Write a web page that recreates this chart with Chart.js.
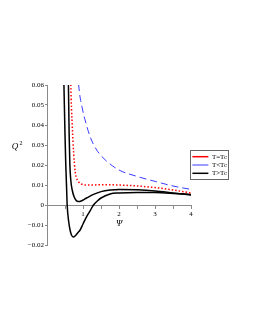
<!DOCTYPE html>
<html>
<head>
<meta charset="utf-8">
<script src="https://cdn.jsdelivr.net/npm/chart.js@4/dist/chart.umd.min.js"></script>
<style>
  body { margin: 0; background: #fff; }
  canvas { display: block; }
</style>
</head>
<body>
<canvas id="myChart" width="255" height="330"></canvas>
<script>
// T=Tc (red dotted)
var psiEq = [0.63, 0.66, 0.70, 0.74, 0.78, 0.82, 0.87, 0.95, 1.1, 1.5, 2.0, 2.5, 3.0, 3.5, 4.0];
var qEq   = [0.09, 0.06, 0.04, 0.026, 0.017, 0.0135, 0.0117, 0.0105, 0.0100, 0.0101, 0.0100, 0.0095, 0.0087, 0.0075, 0.0060];

// T<Tc (blue dashed)
var psiLow = [0.86, 0.88, 0.99, 1.08, 1.2, 1.38, 1.62, 2.0, 2.5, 3.0, 3.5, 4.0];
var qLow   = [0.066, 0.06, 0.0475, 0.041, 0.034, 0.0275, 0.0225, 0.0175, 0.0143, 0.0118, 0.0095, 0.0078];

// T>Tc (black, deep well)
var psiHigh1 = [0.44, 0.47, 0.5, 0.52, 0.545, 0.56, 0.6, 0.64, 0.68, 0.73, 0.78, 0.85, 0.92, 1.0, 1.1, 1.2, 1.29, 1.4, 1.5, 1.75, 2.0, 2.5, 3.0, 3.5, 4.0];
var qHigh1   = [0.09, 0.06, 0.035, 0.021, 0.008, 0.0, -0.008, -0.0125, -0.015, -0.016, -0.0155, -0.014, -0.0125, -0.0095, -0.0058, -0.0028, 0.0, 0.002, 0.0035, 0.0055, 0.006, 0.0063, 0.0062, 0.0058, 0.0053];

// T>Tc (black, shallow well)
var psiHigh2 = [0.57, 0.595, 0.615, 0.635, 0.66, 0.7, 0.75, 0.8, 0.87, 0.95, 1.0, 1.1, 1.29, 1.5, 1.76, 2.0, 2.5, 3.0, 3.5, 4.0];
var qHigh2   = [0.09, 0.06, 0.035, 0.02, 0.0125, 0.0075, 0.0042, 0.0025, 0.0017, 0.002, 0.0025, 0.0035, 0.0053, 0.0067, 0.0075, 0.0078, 0.0076, 0.007, 0.006, 0.005];

var xTicks = [1, 2, 3, 4];

function toPoints(xs, ys) {
    var pts = [];
    for (var i = 0; i < xs.length; i++) pts.push({x: xs[i], y: ys[i]});
    return pts;
}

var serif = "'Liberation Serif', 'DejaVu Serif', serif";
var axisGrey = "#8a8a8a";

// legend frame + horizontal Q^2 label
var extras = {
    id: 'extras',
    afterDraw: function(chart) {
        var ctx = chart.ctx;
        var boxes = chart.legend.legendHitBoxes;
        if (boxes && boxes.length) {
            var l = 1e9, t = 1e9, r = -1e9, b = -1e9;
            boxes.forEach(function(h) {
                l = Math.min(l, h.left); t = Math.min(t, h.top);
                r = Math.max(r, h.left + h.width); b = Math.max(b, h.top + h.height);
            });
            ctx.save();
            ctx.strokeStyle = "#666";
            ctx.lineWidth = 1;
            ctx.strokeRect(Math.round(l - 2) + 0.5, Math.round(t - 3) + 0.5, Math.round(r - l + 3), Math.round(b - t + 5));
            ctx.restore();
        }
        var ya = chart.scales.y;
        ctx.save();
        ctx.fillStyle = "#000";
        ctx.textAlign = "center";
        ctx.textBaseline = "middle";
        ctx.font = "italic 9px " + serif;
        ctx.fillText("Q", 15, ya.getPixelForValue(0.029));
        ctx.font = "6px " + serif;
        ctx.fillText("2", 21, ya.getPixelForValue(0.031));
        ctx.restore();
    }
};

var ctx = document.getElementById("myChart").getContext("2d");
var myChart = new Chart(ctx, {
    type: 'line',
    data: {
        datasets: [
            {label: 'T=Tc', data: toPoints(psiEq, qEq), borderColor: '#ff0000', backgroundColor: '#ff0000',
             borderWidth: 1.5, borderDash: [1.5, 2]},
            {label: 'T<Tc', data: toPoints(psiLow, qLow), borderColor: '#3a3aff', backgroundColor: '#3a3aff',
             borderWidth: 1, borderDash: [7, 4]},
            {label: 'T>Tc', data: toPoints(psiHigh1, qHigh1), borderColor: '#000', backgroundColor: '#000',
             borderWidth: 1.5},
            {label: 'T>Tc ', data: toPoints(psiHigh2, qHigh2), borderColor: '#000', backgroundColor: '#000',
             borderWidth: 1.5}
        ]
    },
    options: {
        responsive: false,
        animation: false,
        elements: {
            point: {radius: 0},
            line: {cubicInterpolationMode: 'monotone', fill: false}
        },
        layout: {padding: {top: 85, bottom: 85, left: 0, right: 18}},
        plugins: {
            tooltip: {enabled: false},
            legend: {
                position: 'right',
                fullSize: false,
                labels: {
                    usePointStyle: true,
                    pointStyle: 'line',
                    pointStyleWidth: 16,
                    padding: 1.3,
                    color: '#000',
                    font: {family: serif, size: 7},
                    filter: function(item) { return item.datasetIndex !== 3; }
                }
            }
        },
        scales: {
            x: {
                type: 'linear',
                position: {y: 0},
                min: 0, max: 4,
                afterFit: function(s) { s.height = 24; },
                ticks: {
                    stepSize: 0.5,
                    autoSkip: false,
                    maxRotation: 0,
                    padding: 2,
                    color: '#000',
                    font: {family: serif, size: 7},
                    callback: function(v) { return xTicks.indexOf(v) >= 0 ? String(v) : ''; }
                },
                grid: {drawOnChartArea: false, tickLength: 3, color: axisGrey},
                border: {color: axisGrey},
                title: {display: true, text: 'Ψ', color: '#000', padding: 0,
                        font: {family: serif, size: 9, style: 'italic'}}
            },
            y: {
                min: -0.02, max: 0.06,
                afterFit: function(s) { s.width = 47; },
                ticks: {
                    stepSize: 0.01,
                    padding: 1,
                    color: '#000',
                    font: {family: serif, size: 7},
                    callback: function(v) {
                        if (Math.abs(v) < 1e-9) return '0';
                        return v.toFixed(2).replace('-', '\u2212');
                    }
                },
                grid: {drawOnChartArea: false, tickLength: 2, color: axisGrey},
                border: {color: axisGrey}
            }
        }
    },
    plugins: [extras]
});
</script>
</body>
</html>
